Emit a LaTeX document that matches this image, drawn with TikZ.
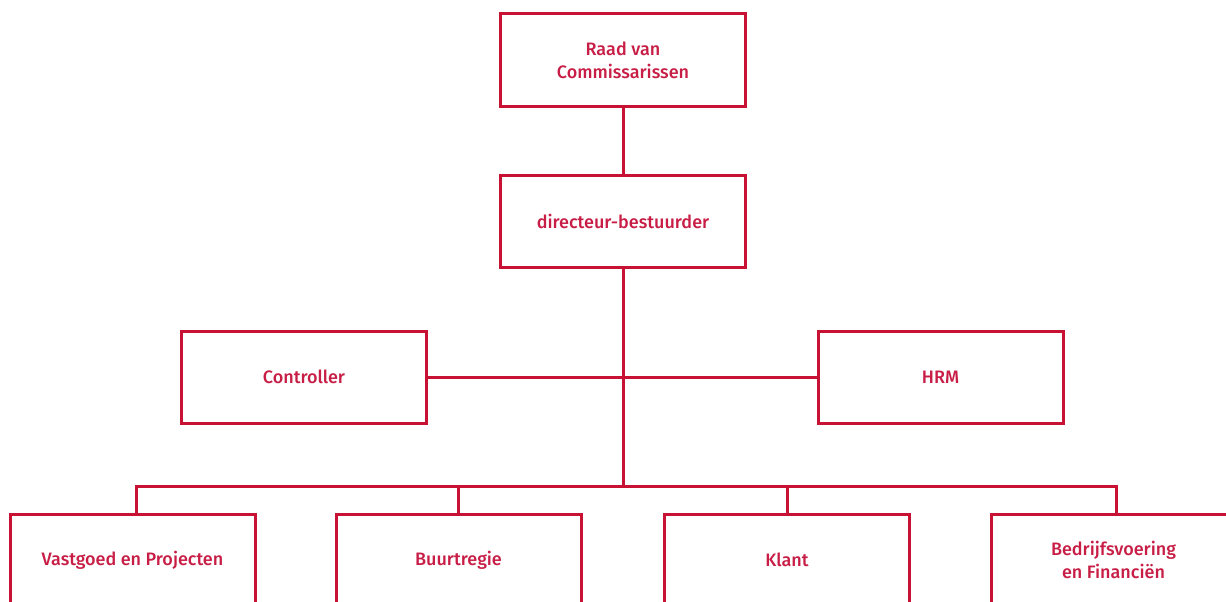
\documentclass[tikz,border=0pt]{standalone}
\usepackage{fontspec}
\setmainfont{Fira Sans}[UprightFont={* Medium}]
\definecolor{org}{RGB}{200,18,52}
\definecolor{orgtext}{RGB}{200,30,70}
\begin{document}
\begin{tikzpicture}[x=1pt,y=-1pt,
  box/.style={draw=org,line width=3pt,fill=white,minimum width=245pt,minimum height=92pt,
    text=orgtext,font=\fontsize{18}{23}\selectfont,align=center,inner sep=0pt},
  conn/.style={draw=org,line width=3pt}]
\useasboundingbox (0,0) rectangle (1226,602);
\clip (0,0) rectangle (1226,602);
\node[box] (raad) at (623,60) {Raad van\\Commissarissen};
\node[box] (dir) at (623,221.5) {directeur-bestuurder};
\node[box] (ctrl) at (304,377) {Controller};
\node[box] (hrm) at (940.5,377) {HRM};
\node[box] (vast) at (132.5,560) {Vastgoed en Projecten};
\node[box] (buur) at (458.5,560) {Buurtregie};
\node[box] (klant) at (787,560) {Klant};
\node[box] (bedr) at (1113.5,560) {Bedrijfsvoering\\en Financiën};
\coordinate (bus) at (623,486);
\draw[conn] (raad.south) -- (dir.north);
\draw[conn] (dir.south) -- (bus);
\draw[conn] (ctrl.east) -- (hrm.west);
\draw[conn] ([xshift=3.5pt]vast.north) |- (bus) -| ([xshift=2.5pt]bedr.north);
\draw[conn] (buur.north) |- (bus);
\draw[conn] (klant.north) |- (bus);
\end{tikzpicture}
\end{document}
